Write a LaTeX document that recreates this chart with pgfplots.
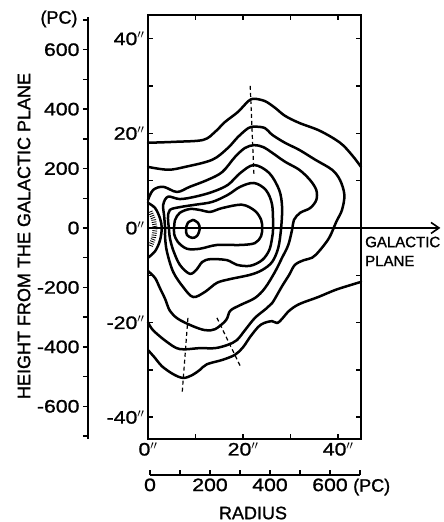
\documentclass[border=0pt]{standalone}
\usepackage{pgfplots}
\pgfplotsset{compat=1.18}
\usepackage{fontspec}
\setmainfont{Liberation Sans}[FakeBold=1.2]
\newfontfamily\numfont{Liberation Sans}[FakeStretch=1.18, FakeBold=1.2]
\usetikzlibrary{arrows.meta,decorations.pathreplacing}

\newcommand\lab{\fontsize{18}{21}\selectfont}
\newcommand\num{\fontsize{18}{21}\selectfont\numfont}
\newcommand\asec{$''$}

\pgfplotsset{
  cont/.style={black, line width=2.5pt, smooth, tension=0.55, line join=round, line cap=round},
  dash/.style={black, line width=1.2pt, dash pattern=on 4pt off 3pt},
}

\begin{document}
\begin{tikzpicture}[x=1pt,y=1pt]
\useasboundingbox (0,0) rectangle (444,522);

% main map, offsets in arcsec
\begin{axis}[at={(148pt,83pt)}, anchor=south west, scale only axis,
  width=213pt, height=424pt,
  xmin=0, xmax=44.8, ymin=-44.6, ymax=45,
  axis line style={line width=2pt},
  xtick={0,20,40}, minor xtick={10,30},
  xticklabels={0\asec,20\asec,40\asec},
  ytick={-40,-20,0,20,40}, minor ytick={-30,-10,10,30},
  yticklabels={-40\asec,-20\asec,0\asec,20\asec,40\asec},
  tick align=inside, major tick length=5pt, minor tick length=5pt,
  tick style={line width=1.5pt, black},
  tick label style={font=\num},
  clip=false]

% outermost level, two open branches
\addplot[cont] coordinates {(0,18.0) (5.7,18.2) (11.6,18.6) (14.1,20.3) (16.2,22.4) (18.9,24.5)
  (21.1,26.8) (22.3,27.3) (24.6,26.8) (26.7,25.4) (28.8,23.7) (31.8,22.2) (36.2,20.5)
  (40.4,18.0) (42.9,15.4) (44.8,12.9)};
\addplot[cont] coordinates {(0,-25.8) (1.5,-27.5) (2.9,-29.2) (5.3,-30.9) (7.4,-31.7) (9.3,-31.1)
  (10.9,-30.0) (12.4,-28.8) (15.6,-27.9) (18.3,-26.8) (20.0,-25.2) (21.5,-23.0) (23.2,-20.9)
  (24.4,-20.1) (26.1,-19.7) (27.2,-20.1) (28.2,-19.2) (29.7,-17.5) (31.8,-16.1) (35.8,-14.6)
  (39.4,-13.1) (42.5,-12.1) (44.8,-11.4)};

% second level
\addplot[cont] coordinates {(0,12.9) (4.2,12.3) (7.8,12.9) (13.5,14.4) (16.8,16.9) (18.9,19.2)
  (21.1,21.1) (22.5,21.4) (24.6,21.1) (26.1,19.7) (28.8,18.0) (31.8,16.5) (35.2,14.4)
  (38.7,12.3) (40.4,10.1) (41.3,7.0) (40.8,3.8) (39.6,1.3) (38.1,-2.1) (36.0,-4.9)
  (34.5,-6.3) (32.8,-6.8) (30.9,-7.8) (29.7,-9.9) (28.2,-12.3) (26.1,-15.9) (24.8,-17.1)
  (22.5,-19.0) (20.4,-21.6) (18.7,-23.7) (16.8,-24.7) (14.1,-25.4) (10.9,-25.4) (6.7,-25.6)
  (4.0,-24.1) (1.05,-21.6) (0,-19.9)};

% third level
\addplot[cont] coordinates {(0,5.9) (1.05,8.0) (3.2,8.7) (6.1,7.6) (8.8,8.7) (12.4,10.1)
  (15.6,11.8) (18.3,15.0) (20.4,16.9) (22.3,17.5) (24.2,17.1) (26.1,15.9) (28.8,14.0)
  (31.8,12.3) (34.1,10.1) (35.4,8.0) (35.4,5.9) (34.1,4.2) (32.0,3.2) (30.7,1.7)
  (30.3,-0.4) (29.5,-3.6) (28.2,-6.3) (26.7,-9.3) (24.6,-12.7) (22.5,-14.8) (19.4,-16.3)
  (17.3,-17.5) (16.4,-19.5) (14.1,-21.4) (12.0,-21.6) (9.3,-20.7) (6.3,-19.2) (4.6,-17.5)
  (3.6,-15.0) (2.5,-12.7) (1.5,-10.6) (0,-9.1)};

% fourth level
\addplot[cont] coordinates {(3.6,0) (3.4,2.5) (3.2,4.9) (4.2,6.6) (6.7,6.1) (9.9,6.6) (13.5,7.6)
  (16.8,9.1) (19.4,11.6) (22.3,13.3) (25.5,11.6) (27.6,8.0) (28.2,4.4) (28.0,0) (27.4,-4.2)
  (26.1,-7.2) (24.0,-8.9) (21.5,-9.9) (17.3,-10.8) (14.5,-11.6) (12.0,-13.5) (9.5,-14.6)
  (7.4,-12.5) (5.3,-9.3) (4.0,-5.1) (3.6,-2.1) (3.6,0)};

% fifth level
\addplot[cont] coordinates {(4.4,0) (4.2,2.1) (4.6,3.8) (6.7,4.4) (9.9,4.9) (13.5,5.5) (16.8,7.0)
  (19.4,8.7) (22.3,9.5) (24.8,8.0) (26.1,4.9) (26.3,0) (26.1,-2.1) (25.5,-4.7) (24.0,-6.8)
  (21.5,-8.0) (18.7,-7.8) (16.6,-6.8) (13.1,-6.6) (11.4,-7.2) (10.3,-8.7) (8.8,-9.7)
  (6.7,-7.8) (5.3,-4.7) (4.6,-2.1) (4.4,0)};

% sixth level (two lobes)
\addplot[cont] coordinates {(5.5,0) (5.7,1.7) (6.7,3.2) (8.8,4.0) (10.9,3.8) (13.1,3.4) (15.6,4.2)
  (19.8,4.9) (22.5,3.6) (23.8,1.7) (24.0,0) (23.8,-1.7) (22.5,-3.2) (19.4,-3.6) (14.5,-3.6)
  (10.9,-4.4) (8.2,-4.4) (6.3,-3.0) (5.5,-1.3) (5.5,0)};

% peak
\addplot[cont] coordinates {(9.5,1.7) (10.5,1.1) (10.9,-0.2) (10.3,-1.7) (9.3,-2.1) (8.2,-1.5)
  (8.0,-0.2) (8.4,1.1) (9.5,1.7)};

% depression at the left edge
\addplot[cont] coordinates {(0,5.3) (1.5,4.2) (2.5,2.1) (2.9,0) (2.5,-2.7) (1.5,-4.9) (0,-6.3)};
\addplot[black, line width=0.8pt, decorate, decoration={ticks, segment length=2.2pt, amplitude=2.4pt}]
  coordinates {(0.5,3.4) (1.2,1.7) (1.5,0) (1.2,-2.1) (0.5,-3.9)};

% ridge lines
\addplot[dash] coordinates {(21.5,30.0) (22.3,10.8)};
\addplot[dash] coordinates {(8.4,-19.0) (7.2,-34.7)};
\addplot[dash] coordinates {(14.5,-19.0) (19.6,-29.6)};

% galactic plane
\addplot[black, line width=1.8pt, -{Straight Barb[length=8pt, width=11pt, line width=1.6pt]}]
  coordinates {(0,0) (61.5,0)};
\end{axis}

% height scale in pc
\begin{axis}[at={(88pt,83pt)}, anchor=south west, scale only axis,
  width=10pt, height=422pt,
  axis y line*=left, axis x line=none,
  xmin=0, xmax=1, ymin=-710, ymax=710,
  ytick={-600,-400,-200,0,200,400,600}, minor ytick={-700,-500,-300,-100,100,300,500,700},
  yticklabels={-600,-400,-200,0,200,400,600},
  axis line style={line width=2pt},
  tick align=outside, major tick length=5pt, minor tick length=5pt,
  tick style={line width=1.5pt, black},
  tick label style={font=\num}]
\end{axis}

% radius scale in pc
\begin{axis}[at={(150pt,47pt)}, anchor=south west, scale only axis,
  width=210pt, height=10pt,
  axis x line*=bottom, axis y line=none,
  xmin=0, xmax=700, ymin=0, ymax=1,
  xtick={0,200,400,600}, minor xtick={100,300,500,700},
  xticklabels={0,200,400,600},
  axis line style={line width=2pt},
  tick align=inside, major tick length=5pt, minor tick length=5pt,
  tick style={line width=1.5pt, black},
  tick label style={font=\num}]
\end{axis}

\node[font=\lab] at (59,503) {(PC)};
\node[font=\lab, anchor=west, inner sep=1pt] at (352,35) {(PC)};
\node[font=\lab] at (253,9) {RADIUS};
\node[font=\lab, rotate=90] at (24,286) {HEIGHT FROM THE GALACTIC PLANE};
\node[font=\fontsize{15}{18}\selectfont, anchor=west, inner sep=0pt] at (365,280) {GALACTIC};
\node[font=\fontsize{15}{18}\selectfont, anchor=west, inner sep=0pt] at (365,261) {PLANE};
\end{tikzpicture}
\end{document}
